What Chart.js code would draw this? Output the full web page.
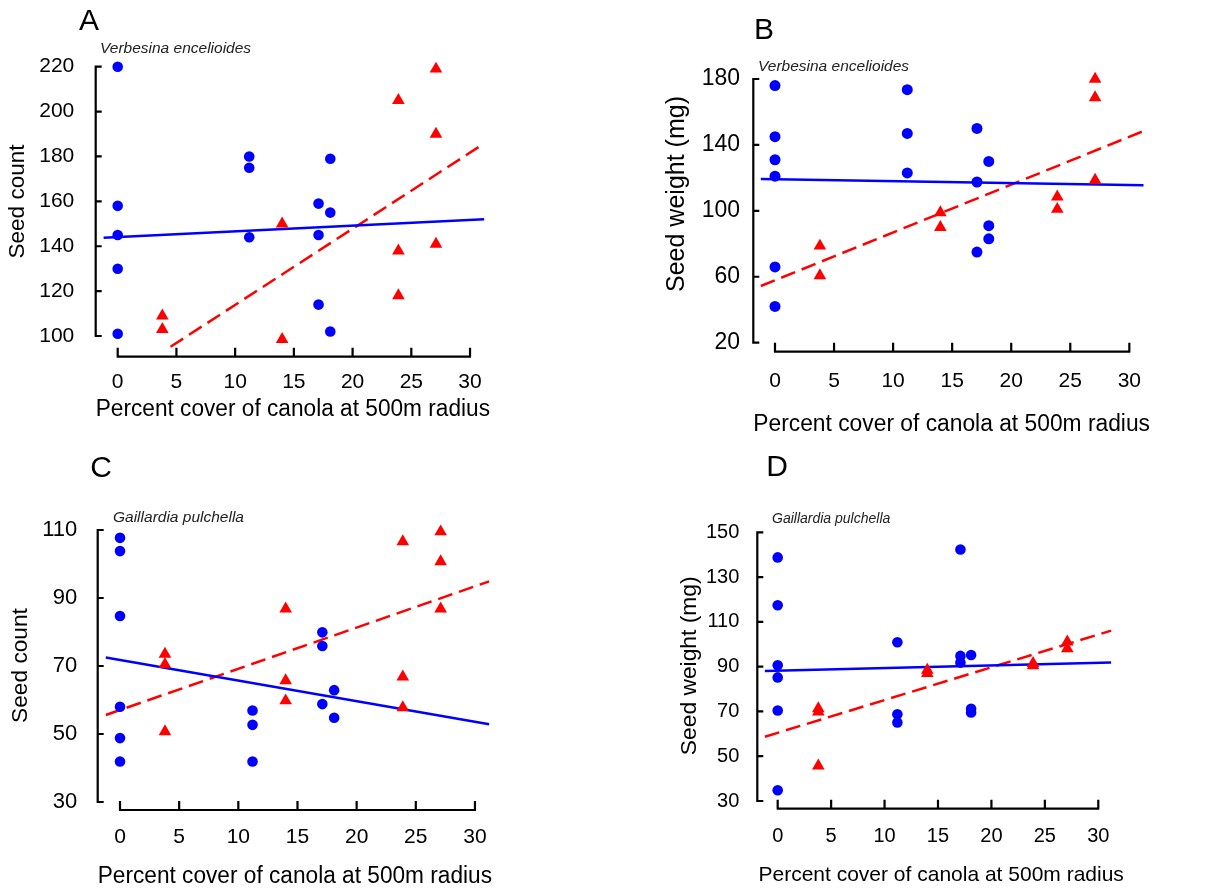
<!DOCTYPE html>
<html>
<head>
<meta charset="utf-8">
<script src="https://cdn.jsdelivr.net/npm/chart.js@4/dist/chart.umd.min.js"></script>
<style>
  body { margin: 0; background: #fff; width: 1213px; height: 890px; position: relative; overflow: hidden; }
  .panel { position: absolute; }
  .letter { position: absolute; width: 40px; text-align: center; font: 30px "Liberation Sans", Arial, sans-serif; line-height: 30px; color: #000; }
  .species { position: absolute; font: italic 15.5px "Liberation Sans", Arial, sans-serif; line-height: 15.5px; color: #222; white-space: nowrap; }
</style>
</head>
<body>
<div class="panel" style="left:0;top:0"><canvas id="chartA" width="606" height="445"></canvas></div>
<div class="panel" style="left:606px;top:0"><canvas id="chartB" width="607" height="445"></canvas></div>
<div class="panel" style="left:0;top:445px"><canvas id="chartC" width="606" height="445"></canvas></div>
<div class="panel" style="left:606px;top:445px"><canvas id="chartD" width="607" height="445"></canvas></div>

<div class="letter" style="left:69px;top:5px">A</div>
<div class="letter" style="left:744px;top:14px">B</div>
<div class="letter" style="left:81px;top:452px">C</div>
<div class="letter" style="left:757px;top:451px">D</div>
<div class="species" style="left:100px;top:40px">Verbesina encelioides</div>
<div class="species" style="left:758px;top:58px">Verbesina encelioides</div>
<div class="species" style="left:113px;top:509px">Gaillardia pulchella</div>
<div class="species" style="left:772px;top:511px;font-size:14px">Gaillardia pulchella</div>

<script>
// x ticks (percent cover of canola)
var xTicks = [0, 5, 10, 15, 20, 25, 30];
var xTitle = "Percent cover of canola at 500m radius";

// A: Verbesina seed count
var aTicks = [100, 120, 140, 160, 180, 200, 220];
var aBlueX = [0, 0, 0, 0, 0, 11.2, 11.2, 11.2, 17.1, 17.1, 17.1, 18.1, 18.1, 18.1];
var aBlueY = [220, 158, 145, 130, 101, 180, 175, 144, 159, 145, 114, 179, 155, 102];
var aRedX = [3.8, 3.8, 14, 14, 23.9, 23.9, 23.9, 27.1, 27.1, 27.1];
var aRedY = [109, 103, 150, 98.5, 205, 138, 118, 219, 190, 141];
var aBlueFit = [[-1.2, 143.8], [31.2, 152.0]];
var aRedFit = [[4.5, 95.2], [31.2, 185.8]];

// B: Verbesina seed weight
var bTicks = [20, 60, 100, 140, 180];
var bBlueX = [0, 0, 0, 0, 0, 0, 11.2, 11.2, 11.2, 17.1, 17.1, 17.1, 18.1, 18.1, 18.1];
var bBlueY = [176, 145, 131, 121, 66, 42, 173.5, 147, 123, 150, 117.5, 75, 130, 91, 83];
var bRedX = [3.8, 3.8, 14, 14, 23.9, 23.9, 27.1, 27.1, 27.1];
var bRedY = [78.7, 60.7, 99, 90, 108.5, 101, 180, 168.7, 118.7];
var bBlueFit = [[-1.2, 119.3], [31.2, 115.5]];
var bRedFit = [[-1.2, 54.4], [31.2, 148.4]];

// C: Gaillardia seed count
var cTicks = [30, 50, 70, 90, 110];
var cBlueX = [0, 0, 0, 0, 0, 0, 11.2, 11.2, 11.2, 17.1, 17.1, 17.1, 18.1, 18.1];
var cBlueY = [107.7, 103.8, 84.7, 58, 48.8, 41.9, 56.9, 52.7, 41.9, 79.9, 75.9, 58.8, 62.9, 54.8];
var cRedX = [3.8, 3.8, 3.8, 14, 14, 14, 23.9, 23.9, 23.9, 27.1, 27.1, 27.1];
var cRedY = [73.5, 70.5, 50.7, 86.8, 65.7, 59.8, 106.6, 66.8, 57.8, 109.5, 100.7, 86.8];
var cBlueFit = [[-1.2, 72.5], [31.2, 52.9]];
var cRedFit = [[-1.2, 55.6], [31.2, 94.9]];

// D: Gaillardia seed weight
var dTicks = [30, 50, 70, 90, 110, 130, 150];
var dBlueX = [0, 0, 0, 0, 0, 0, 11.2, 11.2, 11.2, 17.1, 17.1, 17.1, 18.1, 18.1, 18.1];
var dBlueY = [138.8, 117.4, 90.6, 85.2, 70.4, 34.8, 100.9, 68.7, 65.1, 142.3, 94.8, 91.8, 95.2, 71.2, 69.5];
var dRedX = [3.8, 3.8, 3.8, 14, 14, 23.9, 23.9, 27.1, 27.1];
var dRedY = [71.3, 69.8, 45.7, 88.5, 87, 91.5, 90.5, 101.1, 98.1];
var dBlueFit = [[-1.2, 88.1], [31.2, 91.9]];
var dRedFit = [[-1.2, 58.7], [31.2, 106.1]];

var FONT = '"Liberation Sans", Arial, sans-serif';
Chart.defaults.font.family = FONT;
Chart.defaults.color = "#000";

function pts(xs, ys) {
  return xs.map(function (x, i) { return { x: x, y: ys[i] }; });
}
function fitPts(f) {
  return f.map(function (p) { return { x: p[0], y: p[1] }; });
}

// axis lines only span the first..last tick, ticks point inward
var floatingAxes = {
  id: "floatingAxes",
  beforeDatasetsDraw: function (chart) {
    var ctx = chart.ctx, area = chart.chartArea;
    var xs = chart.scales.x, ys = chart.scales.y;
    var xt = xs.ticks, yt = ys.ticks;
    ctx.save();
    ctx.strokeStyle = "#000";
    ctx.lineWidth = 2.2;
    ctx.beginPath();
    var yb = area.bottom;
    var x0 = xs.getPixelForValue(xt[0].value), x1 = xs.getPixelForValue(xt[xt.length - 1].value);
    ctx.moveTo(x0 - 1, yb);
    ctx.lineTo(x1 + 1, yb);
    xt.forEach(function (t) {
      var px = xs.getPixelForValue(t.value);
      ctx.moveTo(px, yb);
      ctx.lineTo(px, yb - 9);
    });
    var xl = area.left;
    var y0 = ys.getPixelForValue(yt[0].value), y1 = ys.getPixelForValue(yt[yt.length - 1].value);
    ctx.moveTo(xl, y0 + 1);
    ctx.lineTo(xl, y1 - 1);
    yt.forEach(function (t) {
      var py = ys.getPixelForValue(t.value);
      ctx.moveTo(xl - 1, py);
      ctx.lineTo(xl + 6, py);
    });
    ctx.stroke();
    ctx.restore();
  }
};

function makeChart(id, g, yTicks, yTitle, blueX, blueY, redX, redY, blueFit, redFit) {
  var ctx = document.getElementById(id).getContext("2d");
  return new Chart(ctx, {
    type: "scatter",
    data: {
      datasets: [
        { data: pts(blueX, blueY), pointStyle: "circle", pointRadius: g.dot, pointBorderWidth: 0,
          backgroundColor: "#0000ff", borderColor: "#0000ff", clip: false },
        { data: pts(redX, redY), pointStyle: "triangle", pointRadius: 7.3, pointBorderWidth: 0,
          backgroundColor: "#ff0000", borderColor: "#ff0000", clip: false },
        { data: fitPts(blueFit), showLine: true, pointRadius: 0, borderColor: "#0000ff",
          borderWidth: 2.5, clip: false },
        { data: fitPts(redFit), showLine: true, pointRadius: 0, borderColor: "#ff0000",
          borderWidth: 2.5, borderDash: [15, 7], clip: false }
      ]
    },
    options: {
      responsive: false,
      animation: false,
      layout: { padding: { top: g.padTop, right: g.padRight, left: g.padLeft, bottom: 0 } },
      plugins: { legend: { display: false }, tooltip: { enabled: false } },
      scales: {
        x: {
          type: "linear", min: g.xmin, max: g.xmax,
          afterBuildTicks: function (s) { s.ticks = xTicks.map(function (v) { return { value: v }; }); },
          afterFit: function (s) { s.height = g.xH; },
          grid: { display: false, drawTicks: false },
          border: { display: false },
          ticks: { color: "#000", font: { size: g.xTickSize }, padding: g.xTickPad, maxRotation: 0, autoSkip: false },
          title: { display: true, text: xTitle, color: "#000", font: { size: g.xTitleSize },
                   padding: { top: 0, bottom: g.xTitlePad } }
        },
        y: {
          type: "linear", min: g.ymin, max: g.ymax,
          afterBuildTicks: function (s) { s.ticks = yTicks.map(function (v) { return { value: v }; }); },
          afterFit: function (s) { s.width = g.yW; },
          grid: { display: false, drawTicks: false },
          border: { display: false },
          ticks: { color: "#000", font: { size: g.yTickSize }, padding: g.yTickPad, autoSkip: false },
          title: { display: true, text: yTitle, color: "#000", font: { size: g.yTitleSize },
                   padding: { top: g.yTitlePad, bottom: 0 } }
        }
      }
    },
    plugins: [floatingAxes]
  });
}

makeChart("chartA",
  { xmin: -1.873, xmax: 31.70, ymin: 90.78, ymax: 229.09, padTop: 46.3, padRight: 116, padLeft: 0,
    yW: 95.7, xH: 88.3, yTickSize: 21, yTickPad: 21.4, yTitleSize: 22.5, yTitlePad: 4.5,
    xTickSize: 21, xTickPad: 13.4, xTitleSize: 23.3, xTitlePad: 21.2, dot: 5.3 },
  aTicks, "Seed count", aBlueX, aBlueY, aRedX, aRedY, aBlueFit, aRedFit);

makeChart("chartB",
  { xmin: -1.837, xmax: 31.75, ymin: 14.54, ymax: 205.9, padTop: 36.3, padRight: 63, padLeft: 50,
    yW: 97.3, xH: 93.3, yTickSize: 23, yTickPad: 13.3, yTitleSize: 25, yTitlePad: 5.7,
    xTickSize: 21, xTickPad: 17.4, xTitleSize: 23, xTitlePad: 6.2, dot: 5.5 },
  bTicks, "Seed weight (mg)", bBlueX, bBlueY, bRedX, bRedY, bBlueFit, bRedFit);

makeChart("chartC",
  { xmin: -1.885, xmax: 31.44, ymin: 27.65, ymax: 112.65, padTop: 76, padRight: 114, padLeft: 0,
    yW: 97.7, xH: 80, yTickSize: 22, yTickPad: 20.4, yTitleSize: 22.7, yTitlePad: 6.7,
    xTickSize: 21, xTickPad: 14.4, xTitleSize: 23, xTitlePad: 0, dot: 5.3 },
  cTicks, "Seed count", cBlueX, cBlueY, cRedX, cRedY, cBlueFit, cRedFit);

makeChart("chartD",
  { xmin: -1.908, xmax: 32.5, ymin: 26.56, ymax: 154.2, padTop: 77.9, padRight: 88, padLeft: 60,
    yW: 91.3, xH: 81.3, yTickSize: 20, yTickPad: 18, yTitleSize: 22.8, yTitlePad: 9.6,
    xTickSize: 20, xTickPad: 16, xTitleSize: 21, xTitlePad: 2.4, dot: 5.3 },
  dTicks, "Seed weight (mg)", dBlueX, dBlueY, dRedX, dRedY, dBlueFit, dRedFit);
</script>
</body>
</html>
